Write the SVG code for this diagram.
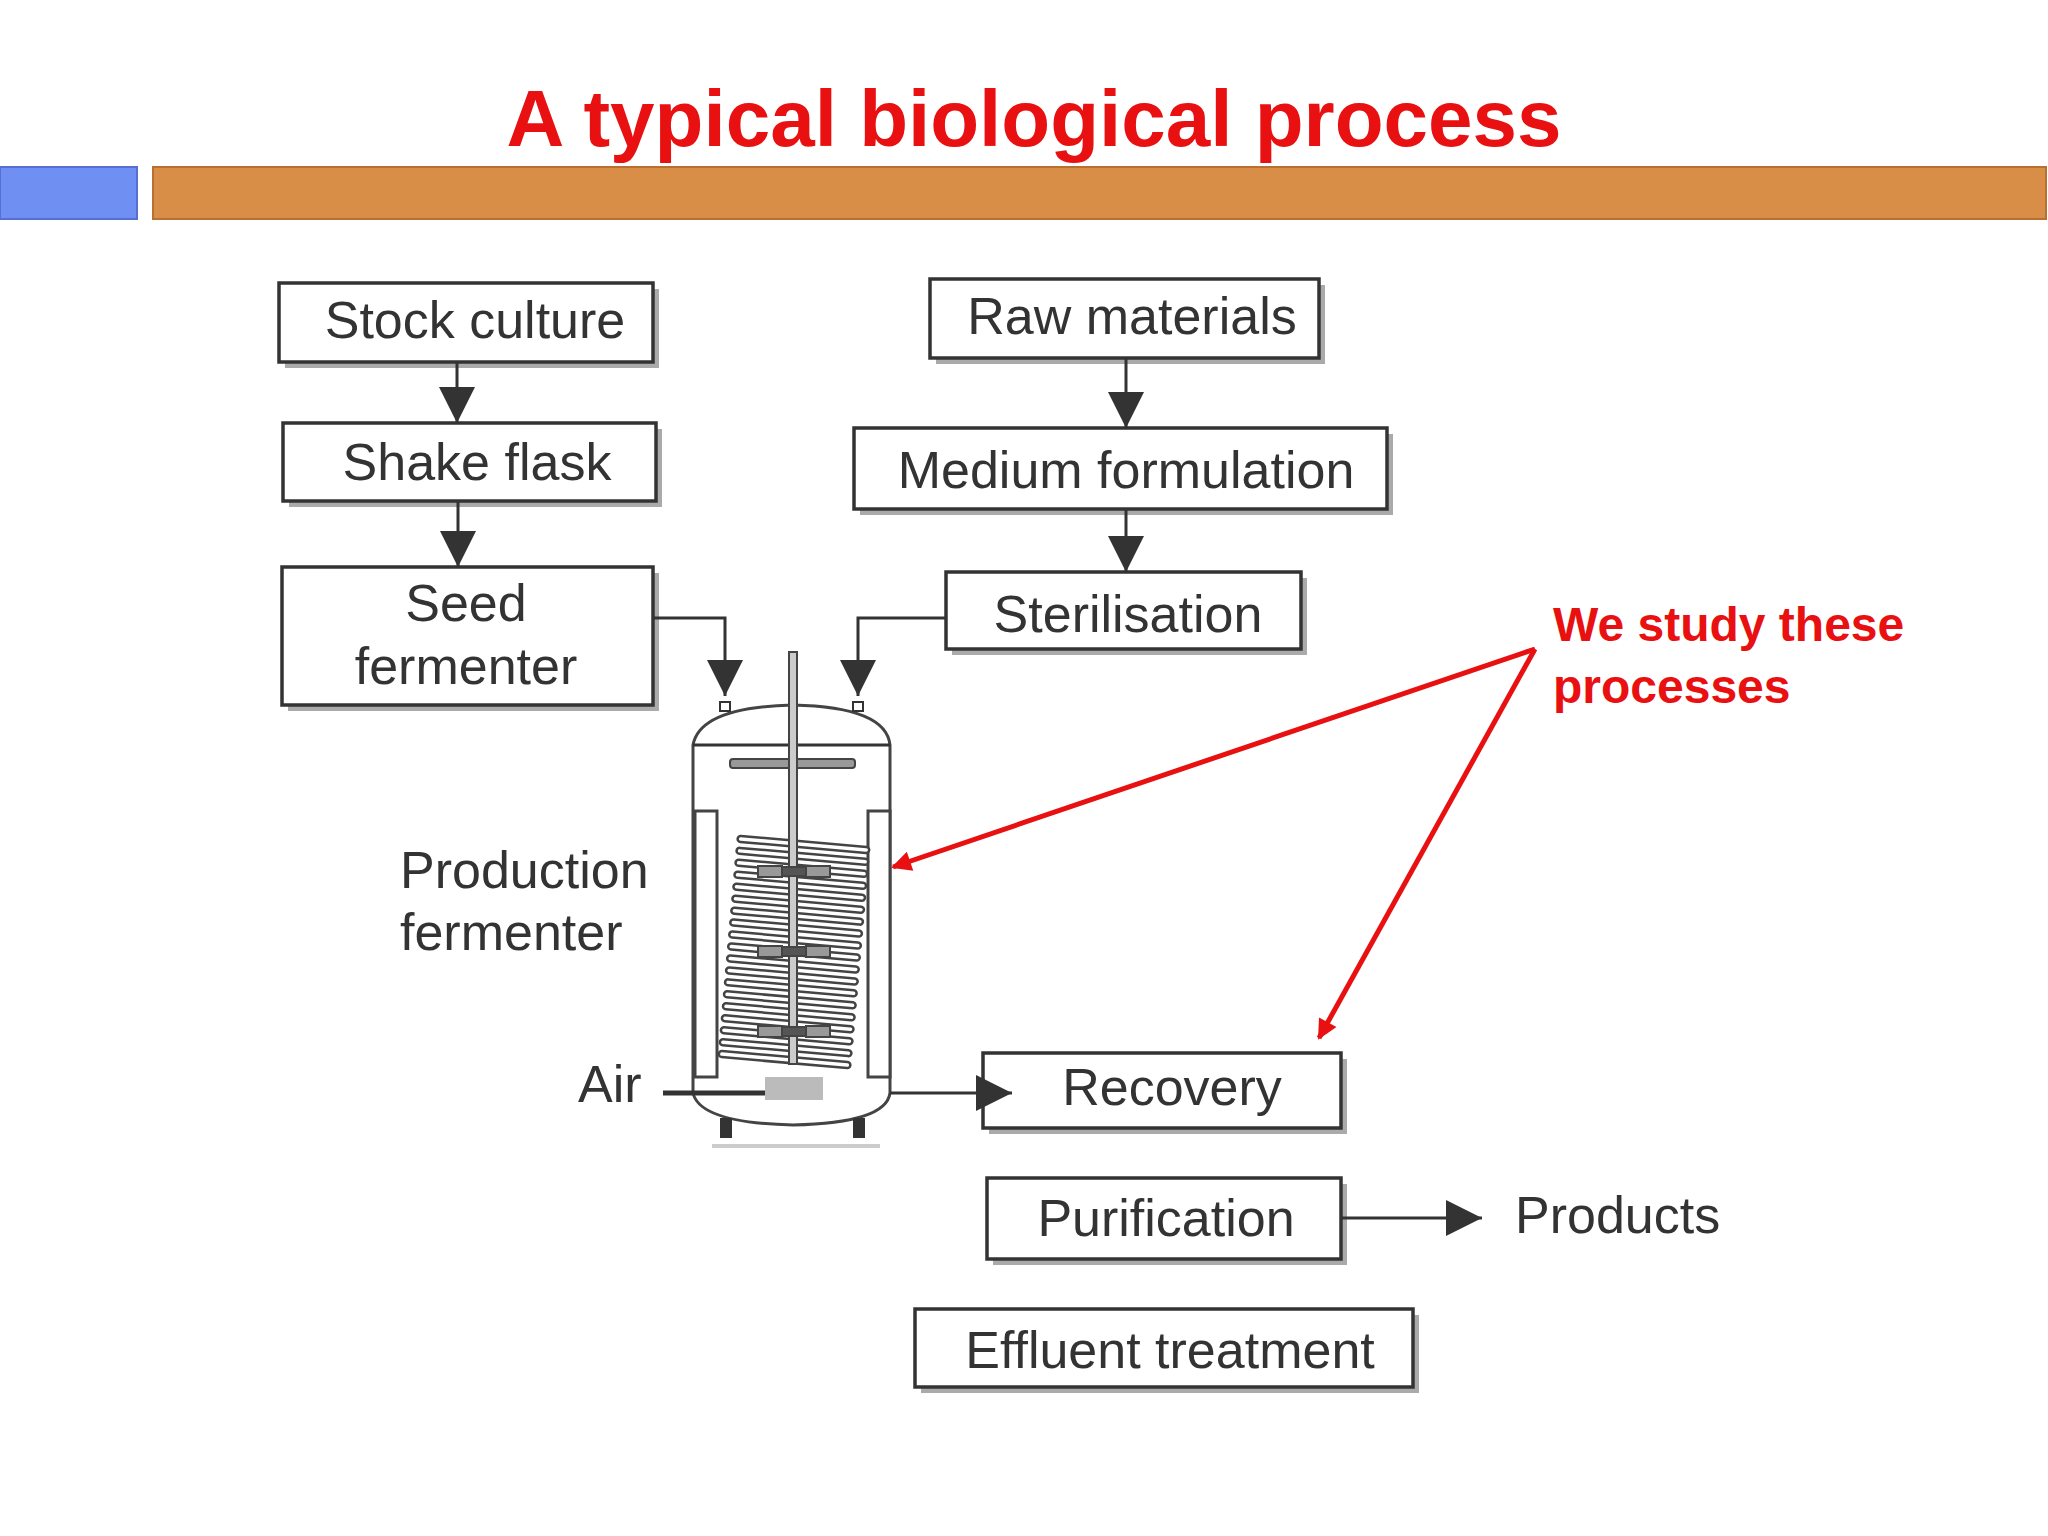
<svg xmlns="http://www.w3.org/2000/svg" width="2048" height="1536" viewBox="0 0 2048 1536">
<style>
.box{fill:#fff;stroke:#333;stroke-width:3.5}
.sh{fill:#aaa}
.t{font-family:"Liberation Sans",Arial,sans-serif;font-size:52px;fill:#333;text-anchor:middle;dominant-baseline:central}
.ln{stroke:#333;stroke-width:3;fill:none}
.red{stroke:#e81010;stroke-width:5;fill:none}
.v{stroke:#444;stroke-width:3;fill:#fff}
</style>
<defs>
<marker id="ab" markerWidth="36" markerHeight="36" refX="10" refY="5" orient="auto" markerUnits="userSpaceOnUse" viewBox="0 0 10 10"><path d="M0,0L10,5L0,10z" fill="#333"/></marker>
<marker id="rh" viewBox="0 0 10 10" refX="9" refY="5" markerWidth="26" markerHeight="20" orient="auto" markerUnits="userSpaceOnUse"><path d="M0,0L10,5L0,10z" fill="#e81010"/></marker>
</defs>
<rect width="2048" height="1536" fill="#fff"/>
<text x="1034" y="118" font-family="Liberation Sans,Arial,sans-serif" font-weight="bold" font-size="80" fill="#e81010" text-anchor="middle" dominant-baseline="central">A typical biological process</text>
<rect x="0" y="167" width="137" height="52" fill="#6f8ff2" stroke="#5570d0" stroke-width="2"/>
<rect x="153" y="167" width="1893" height="52" fill="#d98e48" stroke="#b87030" stroke-width="2"/>

<g id="stock"><rect class="sh" x="285" y="289" width="374" height="79"/><rect class="box" x="279" y="283" width="374" height="79"/><text class="t" x="475" y="320">Stock culture</text></g>
<g id="shake"><rect class="sh" x="289" y="429" width="373" height="78"/><rect class="box" x="283" y="423" width="373" height="78"/><text class="t" x="477" y="462">Shake flask</text></g>
<g id="seed"><rect class="sh" x="288" y="573" width="371" height="138"/><rect class="box" x="282" y="567" width="371" height="138"/><text class="t" x="466" y="603">Seed</text><text class="t" x="466" y="666">fermenter</text></g>
<g id="raw"><rect class="sh" x="936" y="285" width="389" height="79"/><rect class="box" x="930" y="279" width="389" height="79"/><text class="t" x="1132" y="316">Raw materials</text></g>
<g id="medium"><rect class="sh" x="860" y="434" width="533" height="81"/><rect class="box" x="854" y="428" width="533" height="81"/><text class="t" x="1126" y="470">Medium formulation</text></g>
<g id="steril"><rect class="sh" x="952" y="578" width="355" height="77"/><rect class="box" x="946" y="572" width="355" height="77"/><text class="t" x="1128" y="614">Sterilisation</text></g>
<g id="recovery"><rect class="sh" x="989" y="1059" width="358" height="75"/><rect class="box" x="983" y="1053" width="358" height="75"/><text class="t" x="1172" y="1087">Recovery</text></g>
<g id="purification"><rect class="sh" x="993" y="1184" width="354" height="81"/><rect class="box" x="987" y="1178" width="354" height="81"/><text class="t" x="1166" y="1218">Purification</text></g>
<g id="effluent"><rect class="sh" x="921" y="1315" width="498" height="78"/><rect class="box" x="915" y="1309" width="498" height="78"/><text class="t" x="1170" y="1350">Effluent treatment</text></g>
<g id="products"><text class="t" x="1515" y="1215" style="text-anchor:start">Products</text></g>
<g id="labels"><text class="t" x="400" y="870" style="text-anchor:start">Production</text><text class="t" x="400" y="932" style="text-anchor:start">fermenter</text><text class="t" x="578" y="1084" style="text-anchor:start">Air</text></g>

<g id="fermenter">
<path class="v" d="M693,745 Q700,707 793,705 Q886,707 890,745 L890,1093 Q886,1123 793,1125 Q700,1123 693,1093 Z"/>
<line class="ln" x1="693" y1="745" x2="890" y2="745"/>
<rect x="720" y="1118" width="12" height="20" fill="#333"/><rect x="853" y="1118" width="12" height="20" fill="#333"/>
<line x1="712" y1="1146" x2="880" y2="1146" stroke="#ccc" stroke-width="4"/>
<rect x="720" y="702" width="10" height="9" fill="#fff" stroke="#333" stroke-width="2"/>
<rect x="853" y="702" width="10" height="9" fill="#fff" stroke="#333" stroke-width="2"/>
<rect x="695" y="811" width="22" height="266" fill="#fff" stroke="#444" stroke-width="3"/>
<rect x="868" y="811" width="22" height="266" fill="#fff" stroke="#444" stroke-width="3"/>
<rect x="730" y="759" width="125" height="9" rx="3" fill="#999" stroke="#444" stroke-width="2"/>
<g fill="#fff" stroke="#444" stroke-width="2.5" transform="rotate(5 794 952)">
<rect x="728" y="841" width="132" height="6" rx="3"/><rect x="728" y="853" width="132" height="6" rx="3"/><rect x="728" y="865" width="132" height="6" rx="3"/><rect x="728" y="877" width="132" height="6" rx="3"/><rect x="728" y="889" width="132" height="6" rx="3"/><rect x="728" y="901" width="132" height="6" rx="3"/><rect x="728" y="913" width="132" height="6" rx="3"/><rect x="728" y="925" width="132" height="6" rx="3"/><rect x="728" y="937" width="132" height="6" rx="3"/><rect x="728" y="949" width="132" height="6" rx="3"/><rect x="728" y="961" width="132" height="6" rx="3"/><rect x="728" y="973" width="132" height="6" rx="3"/><rect x="728" y="985" width="132" height="6" rx="3"/><rect x="728" y="997" width="132" height="6" rx="3"/><rect x="728" y="1009" width="132" height="6" rx="3"/><rect x="728" y="1021" width="132" height="6" rx="3"/><rect x="728" y="1033" width="132" height="6" rx="3"/><rect x="728" y="1045" width="132" height="6" rx="3"/><rect x="728" y="1057" width="132" height="6" rx="3"/>
</g>
<rect x="789" y="652" width="8" height="412" fill="#ccc" stroke="#444" stroke-width="2"/>
<g fill="#999" stroke="#444" stroke-width="2">
<rect x="758" y="866" width="24" height="11"/><rect x="806" y="866" width="24" height="11"/><rect x="782" y="867" width="24" height="9" fill="#555"/>
<rect x="758" y="946" width="24" height="11"/><rect x="806" y="946" width="24" height="11"/><rect x="782" y="947" width="24" height="9" fill="#555"/>
<rect x="758" y="1026" width="24" height="11"/><rect x="806" y="1026" width="24" height="11"/><rect x="782" y="1027" width="24" height="9" fill="#555"/>
</g>
<rect x="765" y="1077" width="58" height="23" fill="#bbb"/>
<line x1="663" y1="1093" x2="765" y2="1093" stroke="#333" stroke-width="5"/>
</g>

<g id="connectors">
<line class="ln" x1="457" y1="362" x2="457" y2="423" marker-end="url(#ab)"/>
<line class="ln" x1="458" y1="501" x2="458" y2="567" marker-end="url(#ab)"/>
<line class="ln" x1="1126" y1="358" x2="1126" y2="428" marker-end="url(#ab)"/>
<line class="ln" x1="1126" y1="509" x2="1126" y2="572" marker-end="url(#ab)"/>
<path class="ln" d="M653,618 L725,618 L725,696" marker-end="url(#ab)"/>
<path class="ln" d="M946,618 L858,618 L858,696" marker-end="url(#ab)"/>
<path class="ln" d="M890,1093 L1012,1093" marker-end="url(#ab)"/>
<path class="ln" d="M1341,1218 L1482,1218" marker-end="url(#ab)"/>
</g>

<g id="note">
<text x="1553" y="624" font-family="Liberation Sans,Arial,sans-serif" font-weight="bold" font-size="48" fill="#e81010" dominant-baseline="central">We study these</text>
<text x="1553" y="686" font-family="Liberation Sans,Arial,sans-serif" font-weight="bold" font-size="48" fill="#e81010" dominant-baseline="central">processes</text>
<line class="red" x1="1535" y1="649" x2="893" y2="867" marker-end="url(#rh)"/>
<line class="red" x1="1535" y1="649" x2="1319" y2="1038" marker-end="url(#rh)"/>
</g>
</svg>
